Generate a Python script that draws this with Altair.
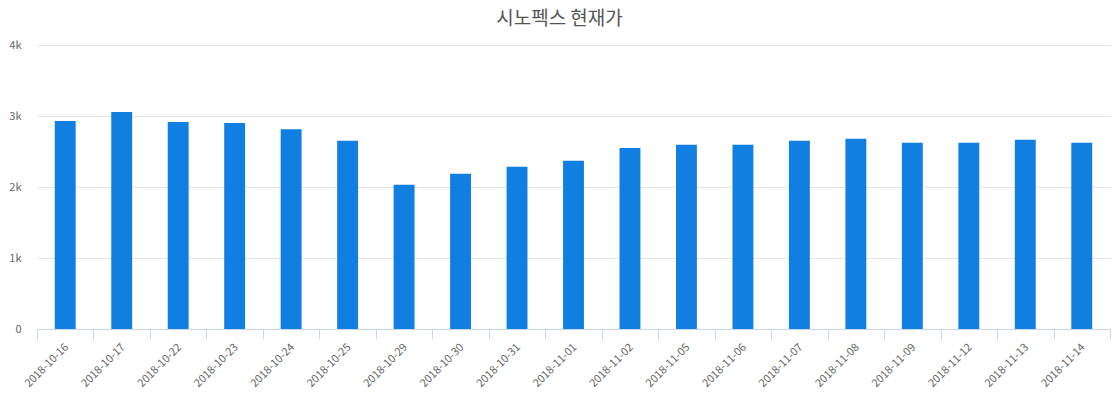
import altair as alt
import pandas as pd

dates = ["2018-10-16", "2018-10-17", "2018-10-22", "2018-10-23", "2018-10-24",
         "2018-10-25", "2018-10-29", "2018-10-30", "2018-10-31", "2018-11-01",
         "2018-11-02", "2018-11-05", "2018-11-06", "2018-11-07", "2018-11-08",
         "2018-11-09", "2018-11-12", "2018-11-13", "2018-11-14"]
prices = [2930, 3055, 2915, 2900, 2815, 2650, 2030, 2185, 2285, 2370,
          2550, 2595, 2595, 2650, 2680, 2625, 2625, 2665, 2625]

df = pd.DataFrame({"date": dates, "price": prices})

FONT = "Noto Sans CJK KR"

chart = alt.Chart(df).mark_bar(
    color="#117fe1",
    width=alt.RelativeBandSize(0.37),
).encode(
    x=alt.X("date:N", sort=None, title=None,
            scale=alt.Scale(paddingInner=0, paddingOuter=0),
            axis=alt.Axis(labelAngle=-45, labelColor="#666666", labelFontSize=11,
                          labelFont=FONT, domainColor="#ccd6eb", tickColor="#ccd6eb",
                          tickSize=10, tickBand="extent", labelPadding=2,
                          labelOffset=-3, grid=False)),
    y=alt.Y("price:Q", title=None,
            scale=alt.Scale(domain=[0, 4000]),
            axis=alt.Axis(values=[0, 1000, 2000, 3000, 4000],
                          labelExpr="datum.value == 0 ? '0' : format(datum.value / 1000, 'd') + 'k'",
                          labelColor="#666666", labelFontSize=11, labelFont=FONT,
                          domain=False, ticks=False, labelPadding=16,
                          gridColor="#e6e6e6")),
).properties(
    width=1073,
    height=284,
    title=alt.TitleParams("시노펙스 현재가", fontSize=19, font=FONT,
                          fontWeight="normal", color="#555555",
                          anchor="middle", offset=10, dx=-14),
    autosize=alt.AutoSizeParams(type="none"),
    padding={"left": 37, "top": 45, "right": 10, "bottom": 71},
).configure_view(stroke=None)

chart.save("out.html", embed_options={"renderer": "svg", "actions": False})
